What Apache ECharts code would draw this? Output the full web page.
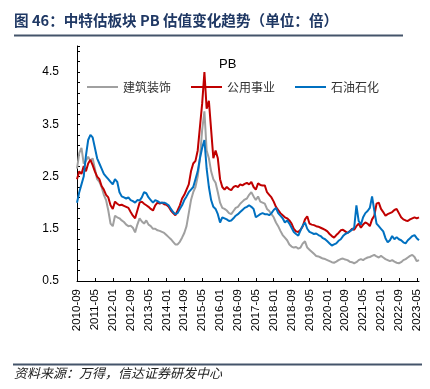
<!DOCTYPE html>
<html>
<head>
<meta charset="utf-8">
<script src="https://cdn.jsdelivr.net/npm/echarts@6/dist/echarts.min.js"></script>
<style>
html,body{margin:0;padding:0;background:#fff;}
#c{width:430px;height:389px;}
</style>
</head>
<body>
<div id="c"></div>
<script>
// Monthly categories from 2010-09 to 2023-06
const startYear = 2010, startMonth = 9, monthCount = 154;
const categories = [];
for (let i = 0; i < monthCount; i++) {
  const t = startMonth - 1 + i;
  const y = startYear + Math.floor(t / 12);
  const m = (t % 12) + 1;
  categories.push(y + '-' + (m < 10 ? '0' + m : m));
}
const seriesNames = ['建筑装饰', '公用事业', '石油石化'];

// 建筑装饰 PB
const jianzhu = [2.65,2.95,3.05,2.75,2.8,2.88,2.8,2.85,2.65,2.45,2.4,2.3,2.15,2.05,1.85,1.6,1.55,1.75,1.72,1.7,
1.66,1.63,1.58,1.55,1.56,1.52,1.43,1.58,1.7,1.64,1.6,1.66,1.58,1.55,1.5,1.5,1.47,1.46,1.44,1.42,
1.38,1.34,1.3,1.25,1.2,1.2,1.25,1.33,1.42,1.55,1.8,2.05,2.2,2.3,2.5,2.85,3.4,3.75,3.0,2.85,
2.6,2.45,2.38,2.2,2.0,1.9,1.88,1.85,1.8,1.78,1.84,1.9,1.92,1.98,2.02,2.06,2.08,2.15,2.2,2.12,
2.05,2.12,2.02,2.0,1.98,1.88,1.84,1.78,1.72,1.62,1.55,1.46,1.38,1.33,1.28,1.2,1.16,1.14,1.15,1.12,
1.14,1.22,1.26,1.14,1.1,1.06,1.02,0.98,0.97,0.95,0.93,0.92,0.9,0.88,0.86,0.85,0.87,0.9,0.92,0.93,
0.91,0.9,0.87,0.86,0.84,0.86,0.9,0.92,0.9,0.93,0.95,0.96,0.98,1.0,0.97,0.95,0.98,0.95,0.92,0.9,
0.88,0.9,0.87,0.85,0.84,0.86,0.9,0.92,0.95,0.98,1.0,0.96,0.88,0.9];

// 公用事业 PB
const gongyong = [2.45,2.6,2.55,2.7,2.6,2.75,2.82,2.72,2.6,2.5,2.45,2.32,2.25,2.15,2.1,1.95,1.88,2.02,1.98,1.95,
1.96,1.94,1.92,1.9,1.82,1.75,1.7,1.85,2.0,2.02,1.98,1.95,1.92,1.88,1.85,1.95,2.0,1.98,2.0,1.97,
1.96,1.92,1.85,1.8,1.76,1.85,1.95,2.08,2.15,2.25,2.35,2.6,2.75,2.8,3.0,3.45,3.9,4.5,3.8,3.95,
3.4,2.85,3.0,2.85,2.45,2.3,2.25,2.3,2.26,2.24,2.3,2.32,2.3,2.35,2.33,2.36,2.38,2.35,2.4,2.3,
2.25,2.37,2.34,2.33,2.33,2.2,2.15,2.1,2.02,1.92,1.86,1.8,1.76,1.72,1.7,1.66,1.6,1.5,1.45,1.44,
1.48,1.55,1.68,1.74,1.6,1.58,1.57,1.55,1.54,1.52,1.5,1.48,1.45,1.4,1.36,1.33,1.38,1.42,1.47,1.48,
1.45,1.42,1.45,1.5,1.48,1.55,1.6,1.52,1.58,1.62,1.6,1.55,1.68,1.75,1.98,2.0,1.88,1.82,1.75,1.78,
1.8,1.82,1.86,1.88,1.8,1.72,1.68,1.66,1.65,1.68,1.7,1.72,1.7,1.72];

// 石油石化 PB
const shiyou = [2.0,2.2,2.35,2.5,2.9,3.2,3.3,3.25,3.05,2.85,2.75,2.65,2.55,2.5,2.45,2.4,2.35,2.45,2.4,2.2,
2.12,2.1,2.08,2.1,2.05,2.03,2.0,2.05,2.04,2.1,2.2,2.18,2.1,2.05,2.0,2.05,2.03,2.0,2.0,2.0,
1.98,1.95,1.88,1.82,1.78,1.8,1.88,1.95,2.05,2.12,2.2,2.25,2.3,2.45,2.6,2.85,3.05,3.2,2.65,2.3,
2.05,1.92,1.88,1.78,1.62,1.72,1.7,1.68,1.65,1.66,1.7,1.75,1.78,1.82,1.86,1.9,1.92,1.95,1.92,1.88,
1.72,1.75,1.78,1.8,1.78,1.78,1.76,1.8,1.86,1.9,1.8,1.75,1.7,1.62,1.66,1.6,1.52,1.44,1.4,1.37,
1.47,1.56,1.62,1.5,1.44,1.42,1.4,1.41,1.38,1.36,1.32,1.3,1.26,1.22,1.18,1.2,1.22,1.27,1.3,1.36,
1.4,1.42,1.45,1.48,1.52,1.95,1.65,1.58,1.72,1.8,1.84,1.9,2.12,1.85,1.6,1.55,1.5,1.45,1.32,1.24,
1.28,1.36,1.3,1.34,1.3,1.28,1.24,1.22,1.28,1.32,1.36,1.38,1.32,1.28];

const seriesColors = ['#A0A0A0', '#C00000', '#0070C0'];
const yMin = 0.5, yMax = 5.0, yInterval = 0.2;

const chart = echarts.init(document.getElementById('c'), null, {renderer: 'canvas'});
const axisFont = 'Liberation Sans, Arial, sans-serif';
const cjkFont = '"Noto Sans CJK SC", sans-serif';

chart.setOption({
  animation: false,
  backgroundColor: '#fff',
  title: {
    text: 'PB',
    left: 214,
    top: 53,
    textStyle: {fontSize: 13, fontWeight: 'normal', color: '#000', fontFamily: axisFont}
  },
  graphic: [
    {type: 'text', left: 14, top: 13, style: {text: '图 46：中特估板块 PB 估值变化趋势（单位：倍）', fontSize: 14.6, fontWeight: 'bold', fill: '#1F3864', fontFamily: cjkFont}},
    {type: 'rect', shape: {x: 14, y: 34.5, width: 389, height: 2}, style: {fill: '#44546A'}},
    {type: 'rect', shape: {x: 13, y: 363.5, width: 409, height: 2}, style: {fill: '#44546A'}},
    {type: 'text', left: 14, top: 367, style: {text: '资料来源：万得，信达证券研发中心', fontSize: 13, fontStyle: 'italic', fill: '#222', fontFamily: cjkFont}}
  ],
  legend: {
    left: 82,
    top: 76,
    itemWidth: 31,
    itemHeight: 2,
    itemGap: 20,
    icon: 'rect',
    data: seriesNames,
    textStyle: {fontSize: 12, color: '#333', fontFamily: cjkFont}
  },
  grid: {left: 77, right: 11, top: 46, bottom: 108, containLabel: false},
  xAxis: {
    type: 'category',
    data: categories,
    boundaryGap: false,
    axisLine: {lineStyle: {color: '#000', width: 1}},
    axisTick: {inside: true, length: 3, interval: 7, lineStyle: {color: '#000'}},
    axisLabel: {interval: 7, rotate: 90, margin: 8, fontSize: 11.5, color: '#000', fontFamily: axisFont},
    splitLine: {show: false}
  },
  yAxis: {
    type: 'value',
    min: yMin,
    max: yMax,
    interval: yInterval,
    axisLine: {show: true, lineStyle: {color: '#000', width: 1}},
    axisTick: {show: true, inside: true, length: 3, lineStyle: {color: '#000'}},
    axisLabel: {
      margin: 18,
      fontSize: 12,
      color: '#000',
      fontFamily: axisFont,
      formatter: function (v) {
        const k = Math.round(v * 10);
        return (k % 10 === 5) ? (k / 10).toFixed(1) : '';
      }
    },
    splitLine: {show: false}
  },
  series: [
    {name: seriesNames[0], type: 'line', data: jianzhu, showSymbol: false, symbol: 'none', lineStyle: {width: 2, color: seriesColors[0]}, itemStyle: {color: seriesColors[0]}},
    {name: seriesNames[1], type: 'line', data: gongyong, showSymbol: false, symbol: 'none', lineStyle: {width: 2, color: seriesColors[1]}, itemStyle: {color: seriesColors[1]}},
    {name: seriesNames[2], type: 'line', data: shiyou, showSymbol: false, symbol: 'none', lineStyle: {width: 2, color: seriesColors[2]}, itemStyle: {color: seriesColors[2]}}
  ]
});
</script>
</body>
</html>
